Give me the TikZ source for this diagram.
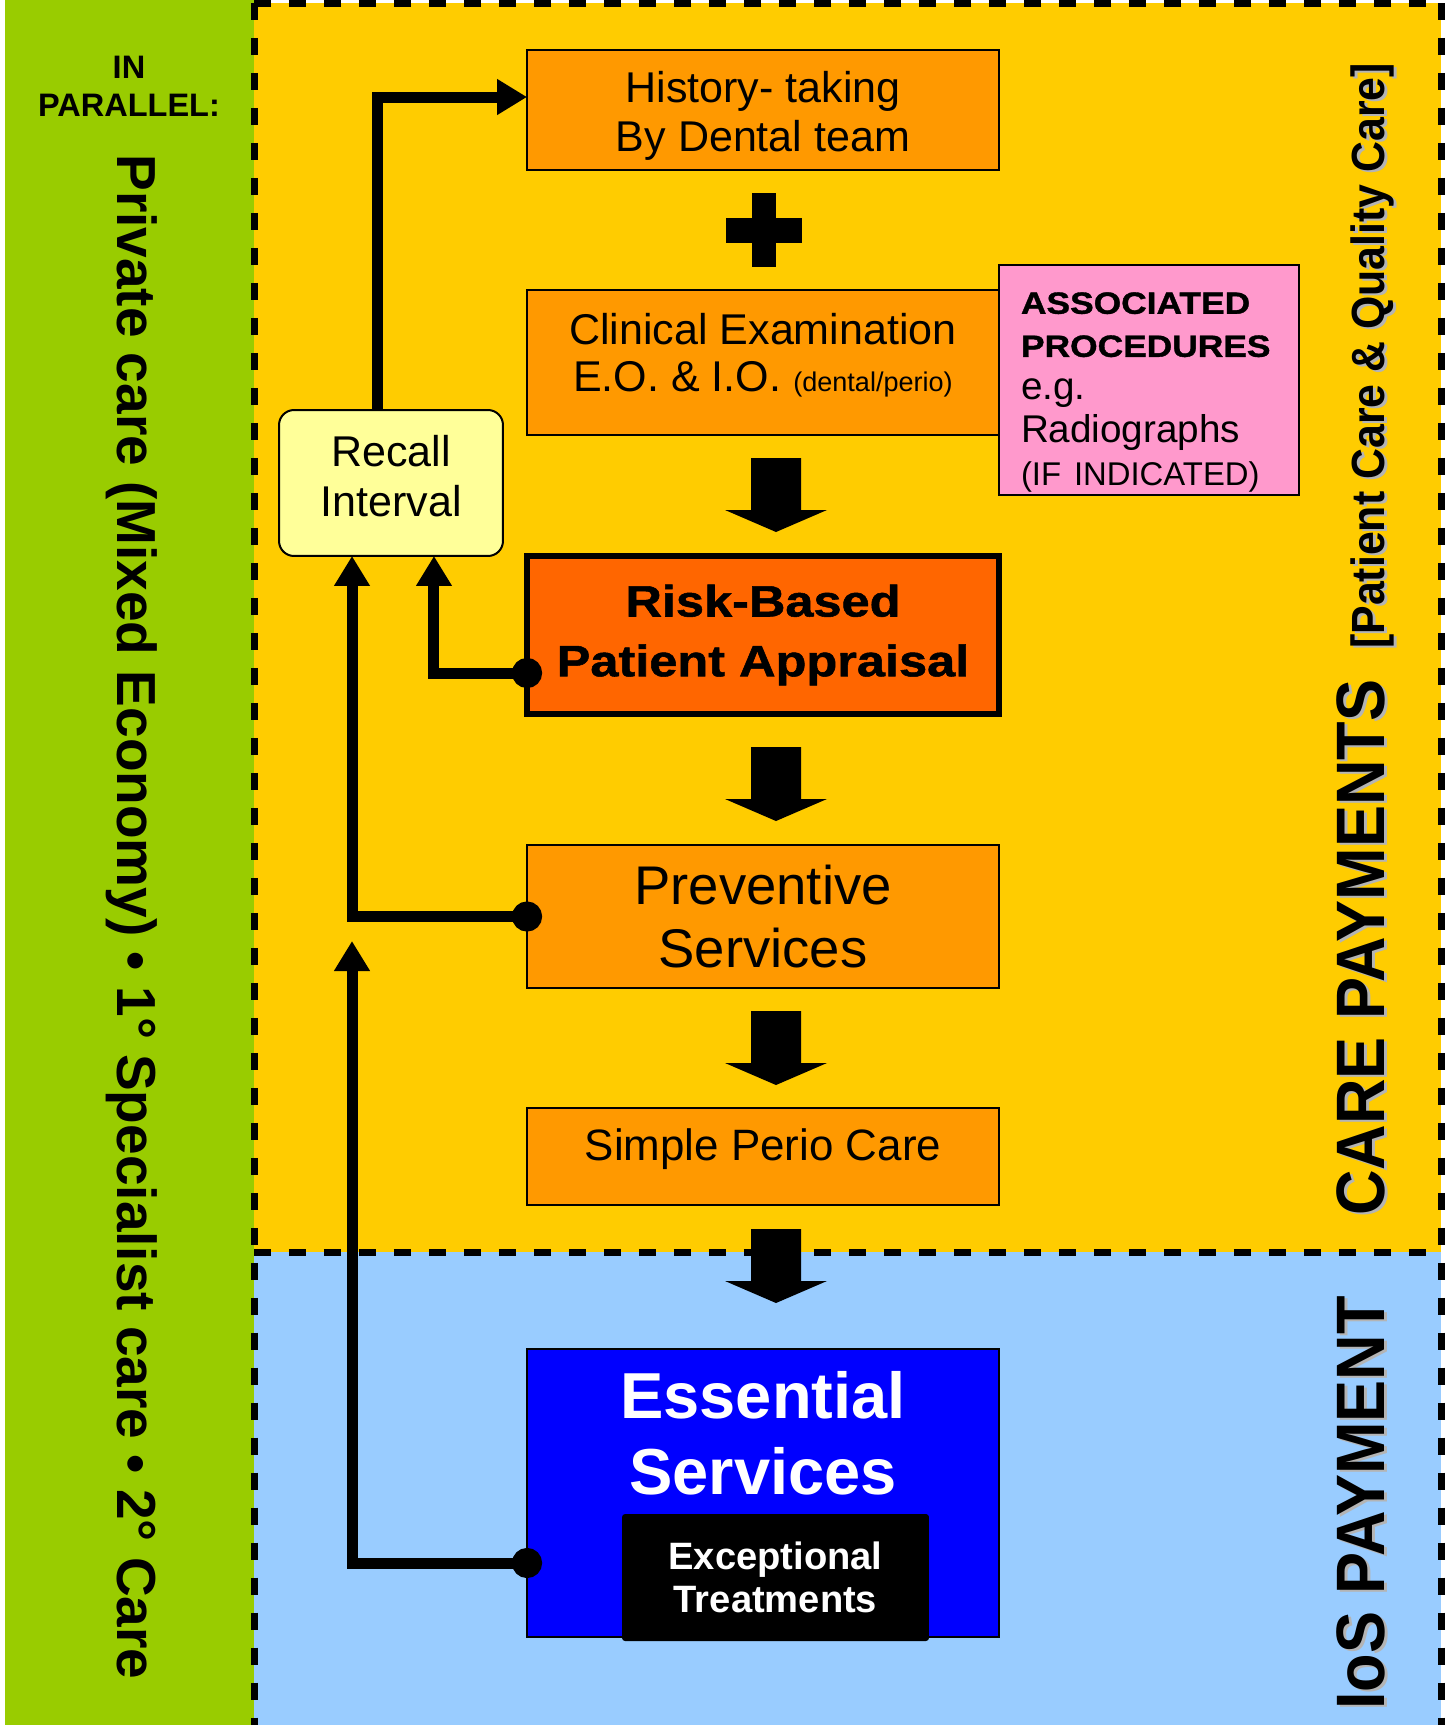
\documentclass[tikz,border=0pt]{standalone}
\usepackage{fontspec}
\setmainfont{Liberation Sans}
\newfontfamily\condfont{Liberation Sans}[FakeStretch=0.92]
\newfontfamily\heavyfont{Liberation Sans}[FakeStretch=1.15,FakeBold=1.2]
\usetikzlibrary{arrows.meta}

\definecolor{panelgreen}{HTML}{99CC00}
\definecolor{careyellow}{HTML}{FFCC00}
\definecolor{iosblue}{HTML}{99CCFF}
\definecolor{boxorange}{HTML}{FF9900}
\definecolor{riskorange}{HTML}{FF6600}
\definecolor{assocpink}{HTML}{FF99CC}
\definecolor{recallyellow}{HTML}{FFFF99}
\definecolor{shadowgrey}{HTML}{B4B4B4}

\newcommand\setfs[2]{\fontsize{#1}{#2}\selectfont}

\tikzset{
  flowbox/.style={draw=black, line width=0.04cm, fill=boxorange, minimum width=9.44cm,
    inner sep=0pt, outer sep=0pt, align=center},
  paylabel/.style={inner sep=0pt, rotate=90, font=\condfont\bfseries\setfs{39}{44}},
  flow/.style={line width=0.22cm, -{Triangle[length=0.6cm,width=0.68cm]}},
  dotflow/.style={flow, {Circle[length=0.6cm]}-{Triangle[length=0.6cm,width=0.68cm]}},
  dashline/.style={line width=0.14cm, dash pattern=on 0.34cm off 0.36cm},
}

\begin{document}
\begin{tikzpicture}[x=0.02cm,y=-0.02cm]

% panels:
\useasboundingbox (0,0) rectangle (1450,1725);
\fill[white] (0,0) rectangle (1450,1725);
\fill[panelgreen] (5,0) rectangle (254,1725);
\fill[careyellow] (254,3) rectangle (1441,1252);
\fill[iosblue] (254,1252) rectangle (1441,1725);
\draw[dashline] (254,3) -- (1441,3);
\draw[dashline] (254,1252) -- (1441,1252);
\draw[dashline] (254,3) -- (254,1725);
\draw[dashline] (1441,3) -- (1441,1725);

% side labels:
\path (129,86) node[align=center, font=\bfseries\setfs{18.5}{21.6}] (inparallel) {IN\\PARALLEL:};
\path (117,154) node[rotate=-90, anchor=base west, inner sep=0pt, font=\bfseries\setfs{31.3}{36}] (sector)
  {Private care (Mixed Economy) • 1° Specialist care • 2° Care};
\path (1387,1218) node[paylabel, anchor=base west, text=shadowgrey] (careshadow) {CARE PAYMENTS};
\path (1384,1216) node[paylabel, anchor=base west] (care) {CARE PAYMENTS};
\path (1387,651) node[paylabel, anchor=base west, text=shadowgrey, font=\condfont\bfseries\setfs{26.5}{30}] (qualshadow) {[Patient Care \& Quality Care]};
\path (1384,649) node[paylabel, anchor=base west, font=\condfont\bfseries\setfs{26.5}{30}] (qual) {[Patient Care \& Quality Care]};
\path (1387,1298) node[paylabel, anchor=base east, text=shadowgrey] (iosshadow) {IoS PAYMENT};
\path (1384,1296) node[paylabel, anchor=base east] (ios) {IoS PAYMENT};

% steps:
\node[flowbox, minimum height=2.42cm, font=\setfs{24.5}{27.9}] (hist) at (763,110)
  {\rule{0pt}{24.7pt}History- taking\\By Dental team};
\fill (752,193) rectangle (776,267);
\fill (726,218) rectangle (802,243);
\node[flowbox, minimum height=2.9cm, font=\setfs{24.5}{26.7}] (clin) at (763,362.5)
  {Clinical Examination\\E.O. \& I.O. {\setfs{15.4}{18}(dental/perio)}\rule[-12pt]{0pt}{0pt}};
\node[draw, line width=0.04cm, fill=assocpink, minimum width=6cm, minimum height=4.6cm, inner xsep=0.44cm,
  inner ysep=0pt, text width=5.12cm, align=left, anchor=west, outer sep=0pt, font=\setfs{22}{24.5}] (assoc) at (999,380)
  {{\heavyfont\bfseries\setfs{17.5}{24.5}\rule{0pt}{26.5pt}ASSOCIATED\\PROCEDURES}\\e.g.\\Radiographs\\{\setfs{18.7}{21}(IF INDICATED)}};
\node[draw, line width=0.04cm, fill=recallyellow, rounded corners=0.3cm, minimum width=4.48cm, minimum height=2.92cm,
  align=center, outer sep=0pt, font=\setfs{24.5}{28.5}] (recall) at (391,483)
  {Recall\\Interval\rule[-8pt]{0pt}{0pt}};
\node[draw, line width=0.12cm, fill=riskorange, minimum width=9.44cm, minimum height=3.16cm, align=center,
  outer sep=0pt, font=\heavyfont\bfseries\setfs{25}{34}] (risk) at (763,635) {Risk-Based\\Patient Appraisal};
\node[flowbox, minimum height=2.86cm, font=\setfs{31}{36}] (prev) at (763,916.5) {Preventive\\Services};
\node[flowbox, minimum height=1.94cm, font=\setfs{25}{30}] (perio) at (763,1156.5)
  {Simple Perio Care\rule[-14pt]{0pt}{0pt}};
\node[draw, line width=0.04cm, fill=blue, minimum width=9.44cm, minimum height=5.76cm, outer sep=0pt] (ess) at (763,1493) {};
\node[text=white, align=center, font=\bfseries\setfs{37}{43}] (esstext) at (763,1433) {Essential\\Services};
\node[fill=black, rounded corners=0.06cm, minimum width=6.14cm, minimum height=2.54cm, text=white, align=center,
  font=\bfseries\setfs{21.7}{24.5}] (exc) at (775.5,1577.5) {Exceptional\\Treatments};

% big arrows:
\foreach \t in {458,747,1011,1229}
  \fill (751,\t) -- (801,\t) -- (801,\t+52) -- (827,\t+52) -- (776,\t+74) -- (725,\t+52) -- (751,\t+52) -- cycle;

% recall loops:
\draw[flow] ([xshift=-0.28cm]recall.north) |- ([yshift=0.26cm]hist.west);
\draw[dotflow] ([shift={(0.3cm,-0.76cm)}]risk.west) -| ([xshift=0.86cm]recall.south);
\draw[dotflow] ([xshift=0.3cm]prev.west) -| ([xshift=-0.78cm]recall.south);
\coordinate (essup) at (352,941);
\draw[dotflow] ([shift={(0.3cm,-1.4cm)}]ess.west) -| (essup);

\end{tikzpicture}
\end{document}
